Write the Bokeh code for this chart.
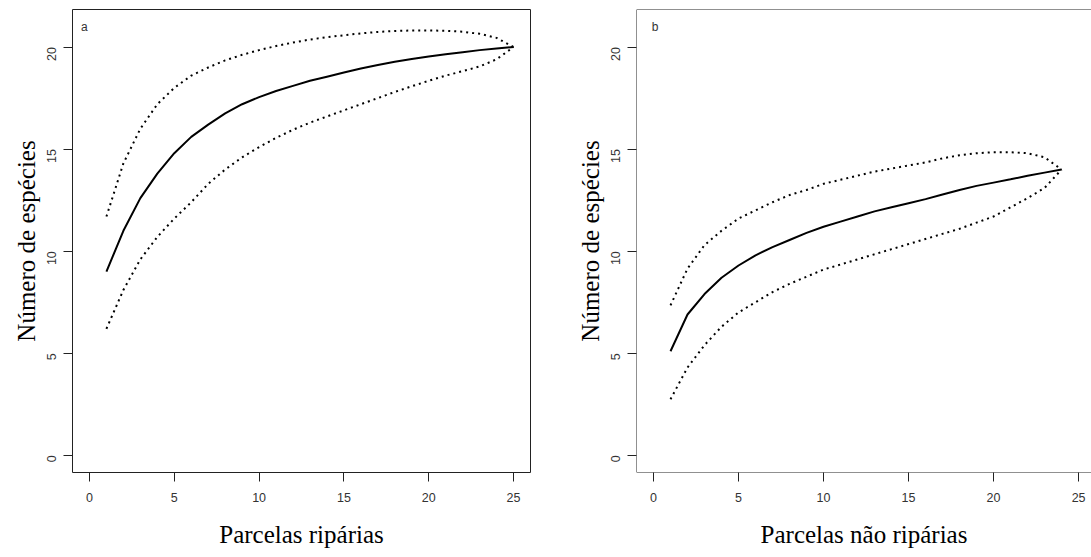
import math
from bokeh.plotting import figure
from bokeh.layouts import row
from bokeh.models import FixedTicker, Label, Range1d, Span
from bokeh.embed import file_html
from bokeh.resources import INLINE

# ---- data ----
x_a = list(range(1, 26))
mean_a = [9.0, 11.0, 12.6, 13.8, 14.8, 15.6, 16.2, 16.75, 17.2, 17.55, 17.85, 18.1, 18.35,
          18.55, 18.75, 18.95, 19.12, 19.28, 19.42, 19.54, 19.65, 19.75, 19.85, 19.93, 20.0]
upper_a = [11.7, 14.3, 16.0, 17.2, 18.0, 18.6, 19.0, 19.35, 19.62, 19.85, 20.05, 20.22, 20.37,
           20.48, 20.58, 20.67, 20.74, 20.79, 20.81, 20.81, 20.8, 20.75, 20.65, 20.45, 20.0]
lower_a = [6.2, 8.1, 9.6, 10.7, 11.6, 12.4, 13.3, 14.0, 14.6, 15.1, 15.55, 15.95, 16.3,
           16.6, 16.9, 17.2, 17.5, 17.8, 18.08, 18.35, 18.6, 18.82, 19.05, 19.4, 20.0]

x_b = list(range(1, 25))
mean_b = [5.1, 6.9, 7.9, 8.7, 9.3, 9.8, 10.2, 10.55, 10.9, 11.2, 11.45, 11.7, 11.95, 12.15,
          12.35, 12.55, 12.78, 13.0, 13.2, 13.36, 13.52, 13.7, 13.85, 14.0]
upper_b = [7.35, 9.15, 10.3, 11.0, 11.6, 12.0, 12.4, 12.75, 13.0, 13.3, 13.5, 13.7, 13.9, 14.05,
           14.2, 14.35, 14.55, 14.7, 14.8, 14.85, 14.85, 14.8, 14.6, 14.0]
lower_b = [2.75, 4.3, 5.4, 6.3, 7.0, 7.5, 8.0, 8.4, 8.75, 9.1, 9.35, 9.6, 9.85, 10.1,
           10.35, 10.6, 10.85, 11.1, 11.4, 11.7, 12.15, 12.6, 13.1, 14.0]

x_ticks = [0, 5, 10, 15, 20, 25]
y_ticks = [0, 5, 10, 15, 20]
y_title = "Número de espécies"
x_title_a = "Parcelas ripárias"
x_title_b = "Parcelas não ripárias"
panel_a = "a"
panel_b = "b"

SERIF = "Liberation Serif"
SANS = "Liberation Sans"
AX = "#222222"
Y0, Y1 = -0.84, 21.84


def make_panel(x, mean, upper, lower, xtitle, tag, width, border_left, border_right, x_end,
               tag_x, right_edge):
    p = figure(width=width, height=557, output_backend="svg", toolbar_location=None,
               x_range=Range1d(-1, x_end), y_range=Range1d(Y0, Y1),
               min_border_left=border_left, min_border_right=border_right,
               min_border_top=9, min_border_bottom=85)
    p.grid.visible = False
    p.background_fill_color = "white"
    p.border_fill_color = "white"
    if right_edge:
        p.outline_line_color = AX
        p.outline_line_width = 1
    else:
        p.outline_line_color = None
        p.add_layout(Span(location=-1, dimension="height", line_color=AX, line_width=1))
        p.add_layout(Span(location=Y0, dimension="width", line_color=AX, line_width=1))
        p.add_layout(Span(location=Y1, dimension="width", line_color=AX, line_width=1))

    for ax, ticks in ((p.xaxis[0], x_ticks), (p.yaxis[0], y_ticks)):
        ax.ticker = FixedTicker(ticks=ticks)
        ax.axis_line_color = None
        ax.major_tick_line_color = AX
        ax.major_tick_out = 9
        ax.major_tick_in = 0
        ax.minor_tick_line_color = None
        ax.major_label_text_font = SANS
        ax.major_label_text_font_size = "12.5px"
        ax.major_label_text_color = "#333333"
        ax.axis_label_text_font = SERIF
        ax.axis_label_text_font_size = "25px"
        ax.axis_label_text_font_style = "normal"
        ax.axis_label_text_color = "black"

    p.xaxis[0].axis_label = xtitle
    p.xaxis[0].major_label_standoff = 11
    p.xaxis[0].axis_label_standoff = 16
    p.yaxis[0].axis_label = y_title
    p.yaxis[0].major_label_orientation = math.pi / 2
    p.yaxis[0].major_label_standoff = 12
    p.yaxis[0].axis_label_standoff = 0

    p.line(x, upper, line_color="black", line_width=2, line_dash="2 4")
    p.line(x, lower, line_color="black", line_width=2, line_dash="2 4")
    p.line(x, mean, line_color="black", line_width=2)

    p.add_layout(Label(x=tag_x, y=21.0, text=tag, text_font=SANS, text_font_size="12px",
                       text_color="#333333", text_align="center", text_baseline="middle"))
    return p


p1 = make_panel(x_a, mean_a, upper_a, lower_a, x_title_a, panel_a, 560, 72, 30, 26, -0.3, True)
p2 = make_panel(x_b, mean_b, upper_b, lower_b, x_title_b, panel_b, 531, 76, 0, 25.76, 0.1, False)

layout = row(p1, p2, spacing=0)
open("out.html", "w").write(file_html(layout, INLINE))
